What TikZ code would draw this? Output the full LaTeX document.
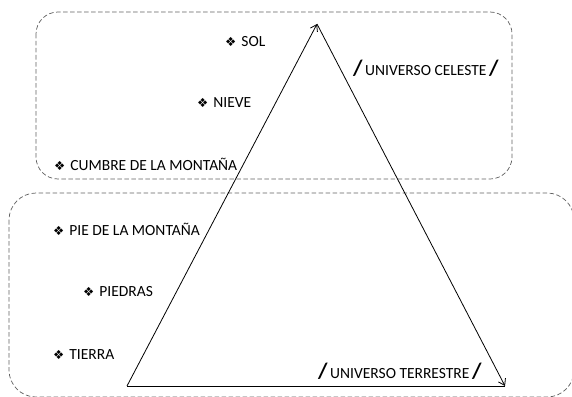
\documentclass[tikz,border=0pt]{standalone}
\usepackage{fontspec}
\setmainfont{Carlito}
\newfontfamily\symbfont{DejaVu Sans}
\usetikzlibrary{arrows.meta}
\definecolor{dashgrey}{RGB}{95,95,95}
\newcommand{\bulletmark}{{\symbfont\fontsize{12.5}{13}\selectfont ❖}\hspace{5pt}}
\newcommand{\slashmark}{{\fontsize{22}{22}\selectfont\bfseries /}}
\tikzset{
  base/.style={font=\fontsize{15.5}{16}\selectfont, inner sep=0pt, anchor=west, text=black},
  item/.style={base},
  realm/.style={base, font=\fontsize{15.5}{16}\selectfont},
  zone/.style={rectangle, draw=dashgrey, dash pattern=on 4.5pt off 2.5pt, line width=0.7pt},
  arr/.style={-{Straight Barb[length=6pt,width=8pt]}, line width=0.8pt, draw=black},
}
\begin{document}
\begin{tikzpicture}[x=1pt,y=-1pt]
  \useasboundingbox (0,0) rectangle (572,396);
  \clip (0,0) rectangle (572,396);
  % zonas
  \draw[zone, rounded corners=22pt] (36,12) rectangle (512,179);
  \draw[zone, rounded corners=27pt] (9,193) rectangle (574,397);
  % montana
  \coordinate (base) at (127,386);
  \coordinate (cima) at (317,24);
  \coordinate (fin) at (505,386);
  \draw[arr] (base) -- (cima);
  \draw[arr] (cima) -- (fin);
  \draw[line width=0.8pt] (base) -- (fin);
  % universo celeste
  \node[item] (sol) at (225,42) {\bulletmark SOL};
  \node[item] (nieve) at (197,103) {\bulletmark NIEVE};
  \node[item] (cumbre) at (54,164) {\bulletmark CUMBRE DE LA MONTAÑA};
  \node[realm] (celeste) at (353,68) {\slashmark\,UNIVERSO CELESTE\,\slashmark};
  % universo terrestre
  \node[item] (pie) at (53,229) {\bulletmark PIE DE LA MONTAÑA};
  \node[item] (piedras) at (83,292) {\bulletmark PIEDRAS};
  \node[item] (tierra) at (53,355) {\bulletmark TIERRA};
  \node[realm] (terrestre) at (318,371) {\slashmark\,UNIVERSO TERRESTRE\,\slashmark};
\end{tikzpicture}
\end{document}
